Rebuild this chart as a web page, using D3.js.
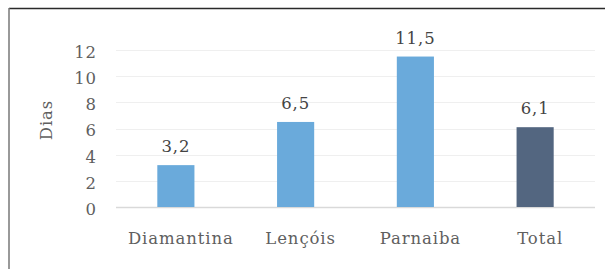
<!DOCTYPE html>
<html>
<head>
<meta charset="utf-8">
<script src="https://cdn.jsdelivr.net/npm/d3@7"></script>
<style>
  body { margin: 0; background: #fff; }
</style>
</head>
<body>
<div id="chart"></div>
<script>
// dados do gráfico
let categories = ['Diamantina', 'Lençóis', 'Parnaiba', 'Total'];
let values = [3.2, 6.5, 11.5, 6.1];
let valueLabels = ['3,2', '6,5', '11,5', '6,1'];
let yTicks = [0, 2, 4, 6, 8, 10, 12];
let barColors = ['#6aaadb', '#6aaadb', '#6aaadb', '#536680'];

let width = 605, height = 269;
let font = "'DejaVu Serif', serif";
let svg = d3.select('#chart').append('svg')
    .attr('width', width)
    .attr('height', height)
    .attr('font-family', font);

// moldura (cortada à direita e embaixo)
svg.append('line').attr('x1', 9).attr('x2', width).attr('y1', 8.5).attr('y2', 8.5)
    .attr('stroke', '#2a2a2a').attr('stroke-width', 1.5);
svg.append('line').attr('x1', 9).attr('x2', 9).attr('y1', 8).attr('y2', height)
    .attr('stroke', '#777').attr('stroke-width', 1.5);

let x = d3.scaleBand().domain(categories).range([116, 595]).paddingInner(0.69).paddingOuter(0.345);
let y = d3.scaleLinear().domain([0, 12]).range([207, 50]);

let g = svg.append('g');

// linhas de grade
g.selectAll('.grid').data(yTicks).enter().append('line')
    .attr('x1', 116).attr('x2', 595)
    .attr('y1', d => Math.round(y(d)) + 0.5).attr('y2', d => Math.round(y(d)) + 0.5)
    .attr('stroke', d => d === 0 ? '#d9d9d9' : '#efefef')
    .attr('stroke-width', d => d === 0 ? 1.5 : 1);

function label(sel) {
    sel.attr('font-family', font)
        .attr('fill', '#5f5f5f')
        .style('font-size', '16.5px')
        .style('letter-spacing', '0.9px');
}

// rótulos do eixo y
g.selectAll('.ytick').data(yTicks).enter().append('text')
    .attr('x', 97).attr('y', d => y(d))
    .attr('dy', '0.48em')
    .attr('text-anchor', 'end')
    .call(label)
    .text(d => d);

// barras
g.selectAll('.bar').data(values).enter().append('rect')
    .attr('x', (d, i) => x(categories[i]))
    .attr('width', x.bandwidth())
    .attr('y', d => y(d))
    .attr('height', d => y(0) - y(d))
    .attr('fill', (d, i) => barColors[i]);

// valores
g.selectAll('.val').data(values).enter().append('text')
    .attr('x', (d, i) => x(categories[i]) + x.bandwidth() / 2)
    .attr('y', d => y(d) - 13)
    .attr('text-anchor', 'middle')
    .call(label)
    .attr('fill', '#444')
    .text((d, i) => valueLabels[i]);

// categorias
g.selectAll('.cat').data(categories).enter().append('text')
    .attr('x', d => x(d) + x.bandwidth() / 2 + 5)
    .attr('y', 244)
    .attr('text-anchor', 'middle')
    .call(label)
    .text(d => d);

// título do eixo
svg.append('text')
    .attr('transform', 'translate(52,120) rotate(-90)')
    .attr('text-anchor', 'middle')
    .call(label)
    .text('Dias');
</script>
</body>
</html>
